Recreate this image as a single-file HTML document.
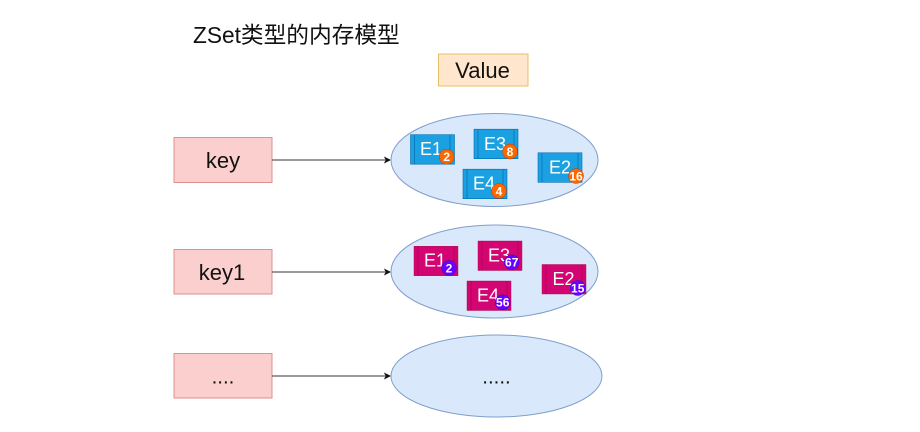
<!DOCTYPE html>
<html><head><meta charset="utf-8">
<style>
html,body{margin:0;padding:0;background:#fff;width:920px;height:432px;overflow:hidden}
svg{display:block;filter:blur(.35px)}
text{font-family:"Liberation Sans","Noto Sans CJK SC",sans-serif}
.k{font-size:22px;fill:#111;text-anchor:middle}
.d{font-size:20.5px;fill:#111;text-anchor:middle}
.e{font-size:18px;fill:#fff;text-anchor:middle}
.b{font-size:12px;fill:#fff;text-anchor:middle;font-weight:bold}
.r{fill:#fbcfce;stroke:#dc8f8c;stroke-width:1}
.el{fill:#dae8fc;stroke:#7f9fcb;stroke-width:1}
.l{stroke:#333;stroke-width:1;fill:none}
.bl{fill:#1ba1e2;stroke:#006eaf;stroke-width:.6}
.pk{fill:#d30573;stroke:#a50040;stroke-width:.4}
.in1{stroke:#006eaf;stroke-width:.7}
.in2{stroke:#a50040;stroke-width:.6}
.o{fill:#fa6800;stroke:#c73500;stroke-width:.5}
.v{fill:#6a00ff;stroke:#3700cc;stroke-width:.5}
</style></head><body>
<svg width="920" height="432" viewBox="0 0 920 432" xmlns="http://www.w3.org/2000/svg">
<text x="193" y="43" font-size="22.7" fill="#111">ZSet类型的内存模型</text>
<rect x="438.5" y="54" width="89.5" height="32" fill="#ffe6cc" stroke="#e8bd6a"/>
<text x="482.5" y="78" class="k">Value</text>

<rect class="r" x="174" y="137.5" width="98" height="45"/>
<text x="223" y="168" class="k">key</text>
<rect class="r" x="174" y="249.5" width="98" height="44.5"/>
<text x="222" y="280" class="k">key1</text>
<rect class="r" x="174" y="353.5" width="98" height="44.5"/>
<text x="223" y="383.5" class="d">....</text>

<path class="l" d="M272 160H385"/><path d="M391 160l-7-3.5 1.5 3.5-1.5 3.5z" fill="#111"/>
<path class="l" d="M272 272H385"/><path d="M391 272l-7-3.5 1.5 3.5-1.5 3.5z" fill="#111"/>
<path class="l" d="M272 376H385"/><path d="M391 376l-7-3.5 1.5 3.5-1.5 3.5z" fill="#111"/>

<ellipse class="el" cx="494.5" cy="160" rx="103.5" ry="46.5"/>
<ellipse class="el" cx="494.5" cy="271.5" rx="103.5" ry="46.5"/>
<ellipse class="el" cx="496.5" cy="376" rx="105.5" ry="41"/>
<text x="496.5" y="383.5" class="d">.....</text>

<!-- blue -->
<rect class="bl" x="410.5" y="134.7" width="44" height="29.5"/><path class="in1" d="M414.5 134.7v29.5M450 134.7v29.5"/>
<text x="431" y="155" class="e">E1</text>
<circle class="o" cx="446.7" cy="156.7" r="7.5"/><text x="446.7" y="161" class="b">2</text>

<rect class="bl" x="474" y="129.2" width="44" height="29.5"/><path class="in1" d="M478 129.2v29.5M514 129.2v29.5"/>
<text x="495" y="150" class="e">E3</text>
<circle class="o" cx="510" cy="151.5" r="7.5"/><text x="510" y="155.8" class="b">8</text>

<rect class="bl" x="538" y="152.8" width="44" height="29.5"/><path class="in1" d="M542 152.8v29.5M578 152.8v29.5"/>
<text x="560" y="173.5" class="e">E2</text>
<circle class="o" cx="576" cy="176" r="7.5"/><text x="576" y="180.3" class="b">16</text>

<rect class="bl" x="463" y="169.2" width="44" height="29.5"/><path class="in1" d="M467 169.2v29.5M503 169.2v29.5"/>
<text x="484" y="189.5" class="e">E4</text>
<circle class="o" cx="499" cy="191" r="7.5"/><text x="499" y="195.3" class="b">4</text>

<!-- pink -->
<rect class="pk" x="414" y="246.2" width="44" height="29.5"/><path class="in2" d="M418 246.2v29.5M454 246.2v29.5"/>
<text x="435" y="266.5" class="e">E1</text>
<circle class="v" cx="449" cy="268" r="7.5"/><text x="449" y="272.3" class="b">2</text>

<rect class="pk" x="478" y="241" width="44" height="29.5"/><path class="in2" d="M482 241v29.5M518 241v29.5"/>
<text x="499" y="261.5" class="e">E3</text>
<circle class="v" cx="511.7" cy="262.3" r="7.5"/><text x="511.7" y="266.6" class="b">67</text>

<rect class="pk" x="542" y="264.5" width="44" height="29.5"/><path class="in2" d="M546 264.5v29.5M582 264.5v29.5"/>
<text x="563.5" y="285" class="e">E2</text>
<circle class="v" cx="577.7" cy="288" r="7.5"/><text x="577.7" y="292.3" class="b">15</text>

<rect class="pk" x="467" y="281" width="44" height="29.5"/><path class="in2" d="M471 281v29.5M507 281v29.5"/>
<text x="488" y="301.5" class="e">E4</text>
<circle class="v" cx="502.7" cy="302.3" r="7.5"/><text x="502.7" y="306.6" class="b">56</text>
</svg>
</body></html>
